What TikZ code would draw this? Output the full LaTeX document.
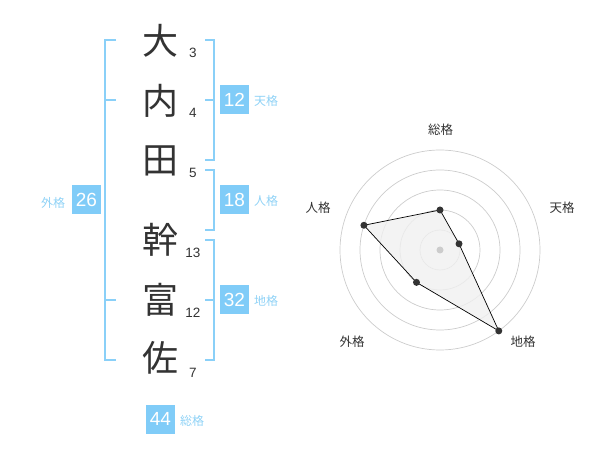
\documentclass[tikz,border=0pt]{standalone}
\usepackage{fontspec}
\setmainfont{Liberation Sans}
\newfontfamily\cjk{Noto Sans CJK JP}
\definecolor{boxc}{HTML}{80CCF8}
\definecolor{linec}{HTML}{8AD0F8}
\definecolor{labc}{HTML}{8FD2F6}
\definecolor{ink}{HTML}{333333}
\definecolor{ringc}{HTML}{CCCCCC}
\definecolor{areac}{HTML}{F0F0F0}
\tikzset{
  kanji/.style={font=\cjk\fontsize{36}{36}\selectfont, text=ink, inner sep=0pt},
  strokes/.style={font=\fontsize{13.5}{14}\selectfont, text=ink, inner sep=0pt},
  numbox/.style={fill=boxc, text=white, minimum width=29pt, minimum height=29pt, inner sep=0pt, font=\fontsize{19}{19}\selectfont},
  kakulab/.style={font=\cjk\fontsize{12}{12}\selectfont, text=labc, inner sep=0pt},
  brk/.style={draw=linec, line width=2pt},
  ring/.style={draw=ringc, line width=0.7pt},
  axlab/.style={font=\cjk\fontsize{12.5}{13}\selectfont, text=ink, inner sep=0pt},
  dot/.style={circle, fill=ink, minimum size=7pt, inner sep=0pt},
}
\begin{document}
\begin{tikzpicture}[x=1pt,y=-1pt]
\useasboundingbox (0,0) rectangle (600,470);
% characters
\node[kanji] (c1) at (160,41) {大};
\node[kanji] (c2) at (160,101) {内};
\node[kanji] (c3) at (160,161) {田};
\node[kanji] (c4) at (160,240) {幹};
\node[kanji] (c5) at (160,300) {富};
\node[kanji] (c6) at (160,358) {佐};
\node[strokes] (s1) at (193,53) {3};
\node[strokes] (s2) at (193,113) {4};
\node[strokes] (s3) at (193,173) {5};
\node[strokes] (s4) at (193,253) {13};
\node[strokes] (s5) at (193,313) {12};
\node[strokes] (s6) at (193,373) {7};
% left bracket
\draw[brk] (116,40) -- (105,40) -- (105,360) -- (116,360);
\draw[brk] (105,100) -- (116,100);
\draw[brk] (105,300) -- (116,300);
\node[numbox] (b26) at (86.5,200) {26};
\node[kakulab] (l26) at (53,203) {外格};
% right brackets
\draw[brk] (205,40) -- (214,40) -- (214,160) -- (205,160);
\draw[brk] (205,100) -- (214,100);
\node[numbox] (b12) at (234.5,100) {12};
\node[kakulab] (l12) at (266,101) {天格};
\draw[brk] (205,170) -- (214,170) -- (214,230) -- (205,230);
\node[numbox] (b18) at (234.5,200) {18};
\node[kakulab] (l18) at (266,201) {人格};
\draw[brk] (205,240) -- (214,240) -- (214,360) -- (205,360);
\draw[brk] (205,300) -- (214,300);
\node[numbox] (b32) at (234.5,300) {32};
\node[kakulab] (l32) at (266,301) {地格};
\node[numbox] (b44) at (160.5,419) {44};
\node[kakulab] (l44) at (192,421) {総格};
% radar
\begin{scope}[shift={(440,250)}, x=1pt, y=1pt]
  \foreach \r in {20,40,60,80,100} \draw[ring] (0,0) circle (\r);
  \coordinate (ps) at (90:40);
  \coordinate (pt) at (18:20);
  \coordinate (pc) at (-54:100);
  \coordinate (pg) at (-126:40);
  \coordinate (pj) at (162:80);
  \fill[areac, fill opacity=0.8] (ps) -- (pt) -- (pc) -- (pg) -- (pj) -- cycle;
  \draw[black, line width=0.7pt] (ps) -- (pt) -- (pc) -- (pg) -- (pj) -- cycle;
  \node[circle, fill=ringc, minimum size=7pt, inner sep=0pt] (ctr) at (0,0) {};
  \node[dot] (ds) at (ps) {};
  \node[dot] (dt) at (pt) {};
  \node[dot] (dc) at (pc) {};
  \node[dot] (dg) at (pg) {};
  \node[dot] (dj) at (pj) {};
\end{scope}
\node[axlab] (as) at (440.5,130) {総格};
\node[axlab] (at) at (562,208) {天格};
\node[axlab] (ac) at (523,342) {地格};
\node[axlab] (ag) at (352,342) {外格};
\node[axlab] (aj) at (318,208) {人格};
\end{tikzpicture}
\end{document}
